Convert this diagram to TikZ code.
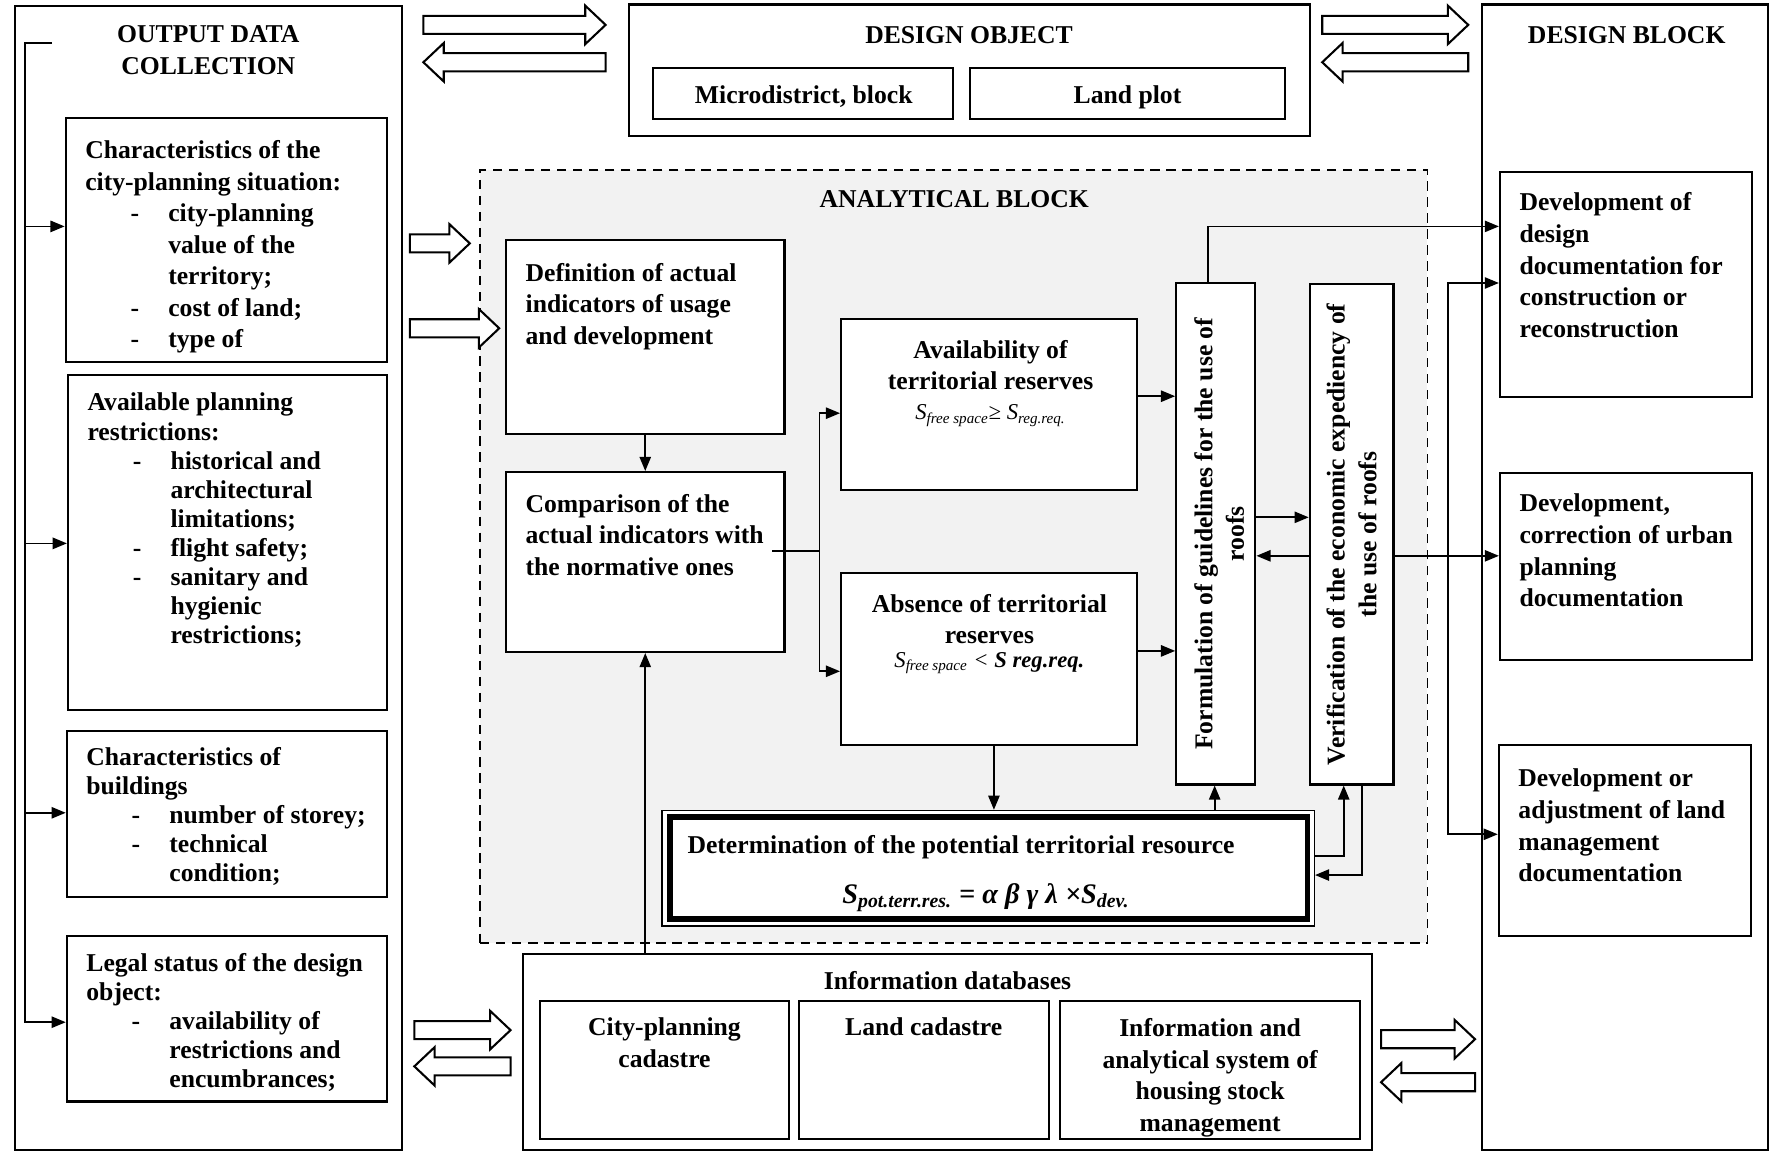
\documentclass[tikz,border=0pt]{standalone}
\usepackage{fontspec}
\setmainfont{Liberation Serif}
\usetikzlibrary{arrows.meta,fit,calc}
\definecolor{abg}{RGB}{242,242,242}
\newcommand\mf{\bfseries\fontsize{13.6}{16.8}\selectfont}
\newcommand\lf{\bfseries\fontsize{13.6}{15.4}\selectfont}
\newcommand\litem[1]{\hspace*{24pt}\makebox[20pt][l]{-}#1}
\newcommand\lcont[1]{\hspace*{44pt}#1}
\newcommand\blkR[3]{\draw[barr] (#1,#3-8) -- (#2-18,#3-8) -- (#2-18,#3-17) -- (#2,#3) -- (#2-18,#3+17) -- (#2-18,#3+8) -- (#1,#3+8) -- cycle;}
\newcommand\blkL[3]{\draw[barr] (#2,#3-8) -- (#1+18,#3-8) -- (#1+18,#3-17) -- (#1,#3) -- (#1+18,#3+17) -- (#1+18,#3+8) -- (#2,#3+8) -- cycle;}
\begin{document}
\begin{tikzpicture}[x=0.6pt,y=-0.6pt,
  box/.style={draw, line width=1.1pt, fill=white, inner sep=0pt},
  txt/.style={inner sep=0pt, align=left, anchor=north west, font=\mf},
  ctxt/.style={inner sep=0pt, align=center, font=\mf},
  arr/.style={line width=0.9pt, -{Triangle[length=7.5pt,width=6pt]}},
  ln/.style={line width=0.9pt},
  barr/.style={draw, line width=1.1pt, fill=white}]

\useasboundingbox (0,0) rectangle (1568,1018);
\fill[white] (0,0) rectangle (1568,1018);

% ---------- analytical block background
\node[fit={(424,150) (1261,833)}, inner sep=0pt, draw, dash pattern=on 5pt off 3.5pt, line width=0.9pt, fill=abg] (anal) {};
\node[ctxt] at (843,176) {ANALYTICAL BLOCK};

% ---------- output data collection
\node[box, fit={(13,5) (355,1016)}] (odc) {};
\node[ctxt] at (184,44.5) {OUTPUT DATA\\COLLECTION};

\node[box, fit={(58,104) (342,320)}] (sit) {};
\node[txt, font=\bfseries\fontsize{13.6}{16.7}\selectfont] at (75,124) {Characteristics of the\\city-planning situation:\\\litem{city-planning}\\\lcont{value of the}\\\lcont{territory;}\\\litem{cost of land;}\\\litem{type of}};

\node[box, fit={(60,331) (342,627)}] (restr) {};
\node[txt, font=\lf] at (77,347) {Available planning\\restrictions:\\\litem{historical and}\\\lcont{architectural}\\\lcont{limitations;}\\\litem{flight safety;}\\\litem{sanitary and}\\\lcont{hygienic}\\\lcont{restrictions;}};

\node[box, fit={(59,646) (342,792)}] (bld) {};
\node[txt, font=\lf] at (76,660) {Characteristics of\\buildings\\\litem{number of storey;}\\\litem{technical}\\\lcont{condition;}};

\node[box, fit={(59,827) (342,973)}] (legal) {};
\node[txt, font=\lf] at (76,842) {Legal status of the design\\object:\\\litem{availability of}\\\lcont{restrictions and}\\\lcont{encumbrances;}};

\coordinate (lt) at (46,38);
\coordinate (lx) at (22,38);
\draw[arr] (lt) -| (lx |- 0,903) -- (legal.west |- 0,903);
\draw[arr] (lx |- 0,200) -- (sit.west |- 0,200);
\draw[arr] (lx |- 0,480) -- (restr.west |- 0,480);
\draw[arr] (lx |- 0,718) -- (bld.west |- 0,718);

% ---------- design object
\node[box, fit={(556,4) (1157,120)}] (dobj) {};
\node[ctxt] at (856,31) {DESIGN OBJECT};
\node[box, fit={(577,60) (842,105)}] (micro) {};
\node[ctxt, anchor=base] at (710,91) {Microdistrict, block};
\node[box, fit={(857,60) (1135,105)}] (plot) {};
\node[ctxt, anchor=base] at (996,91) {Land plot};

% ---------- design block
\node[box, fit={(1309,4) (1562,1016)}] (dblk) {};
\node[ctxt] at (1437,31) {DESIGN BLOCK};
\node[box, fit={(1325,152) (1548,351)}] (dd1) {};
\node[txt] at (1342,170) {Development of\\design\\documentation for\\construction or\\reconstruction};
\node[box, fit={(1325,418) (1548,583)}] (dd2) {};
\node[txt] at (1342,436) {Development,\\correction of urban\\planning\\documentation};
\node[box, fit={(1324,658) (1547,827)}] (dd3) {};
\node[txt] at (1341,679) {Development or\\adjustment of land\\management\\documentation};

% ---------- information databases
\node[box, fit={(462,843) (1212,1016)}] (info) {};
\node[ctxt] at (837,866) {Information databases};
\node[box, fit={(477,884) (697,1006)}] (cpc) {};
\node[ctxt] at (587,921) {City-planning\\cadastre};
\node[box, fit={(706,884) (927,1006)}] (lcd) {};
\node[ctxt] at (816,907) {Land cadastre};
\node[box, fit={(936,884) (1201,1006)}] (ias) {};
\node[ctxt] at (1069,952) {Information and\\analytical system of\\housing stock\\management};

% ---------- analytical contents
\node[box, fit={(447,212) (693,383)}] (def) {};
\node[txt] at (464,232) {Definition of actual\\indicators of usage\\and development};
\node[box, fit={(447,417) (693,576)}] (comp) {};
\node[txt] at (464,436) {Comparison of the\\actual indicators with\\the normative ones};

\node[box, fit={(743,282) (1004,433)}] (avail) {};
\node[ctxt] at (875,322.5) {Availability of\\territorial reserves};
\node[inner sep=0pt, font=\fontsize{12}{14}\selectfont\itshape] at (875,367) {S\textsubscript{free space}≥ S\textsubscript{reg.req.}};

\node[box, fit={(743,506) (1004,658)}] (absn) {};
\node[ctxt] at (874,547) {Absence of territorial\\reserves};
\node[inner sep=0pt, font=\fontsize{12}{14}\selectfont\itshape] at (874,586) {S\textsubscript{free space} < \textbf{S reg.req.}};

\node[box, fit={(1039,250) (1109,693)}] (form) {};
\node[ctxt, rotate=90] at (1077,471.5) {Formulation of guidelines for the use of\\roofs};
\node[box, fit={(1157,251) (1231,693)}] (verif) {};
\node[ctxt, rotate=90] at (1194,472) {Verification of the economic expediency of\\the use of roofs};

\node[draw, line width=0.8pt, fill=white, inner sep=0pt, fit={(585,716) (1161,818)}] (det) {};
\draw[line width=3pt] (592,722) rectangle (1155,812);
\node[inner sep=0pt, anchor=west, font=\mf] at (607,748) {Determination of the potential territorial resource};
\node[inner sep=0pt, font=\bfseries\itshape\fontsize{15}{17}\selectfont] at (871,793) {S\textsubscript{pot.terr.res.} = α β γ λ ×S\textsubscript{dev.}};

% ---------- connectors
\draw[arr] (def.south) -- (comp.north);
\draw[arr] (info.north -| comp.south) -- (comp.south);

\coordinate (br) at (724,487);
\draw[ln] (682,487) -- (br);
\draw[arr] (br) |- (avail.west |- 0,365);
\draw[arr] (br) |- (absn.west |- 0,593);

\draw[arr] (avail.east |- 0,350) -- (form.west |- 0,350);
\draw[arr] (absn.east |- 0,575) -- (form.west |- 0,575);
\draw[arr] (form.east |- 0,457) -- (verif.west |- 0,457);
\draw[arr] (verif.west |- 0,491) -- (form.east |- 0,491);

\draw[arr] (absn.south -| 878,0) -- (det.north -| 878,0);
\draw[arr] (det.north -| 1073,0) -- (form.south -| 1073,0);
\draw[arr] (det.east |- 0,756) -| (verif.south -| 1187,0);
\draw[arr] (verif.south -| 1203,0) |- (det.east |- 0,773);

\draw[arr] (form.north -| 1067,0) |- (dd1.west |- 0,200);
\draw[arr] (verif.east |- 0,491) -- (dd2.west |- 0,491);
\coordinate (vj) at (1279,491);
\draw[arr] (vj) |- (dd1.west |- 0,250);
\draw[arr] (vj) |- (dd3.west |- 0,737);

% ---------- block arrows
\blkR{374}{535}{22}
\blkL{374}{535}{55}
\blkR{1168}{1297}{22}
\blkL{1168}{1297}{55}
\blkR{362}{415}{215}
\blkR{362}{441}{290}
\blkR{366}{451}{910}
\blkL{366}{451}{942}
\blkR{1220}{1303}{918}
\blkL{1220}{1303}{956}
\end{tikzpicture}
\end{document}
